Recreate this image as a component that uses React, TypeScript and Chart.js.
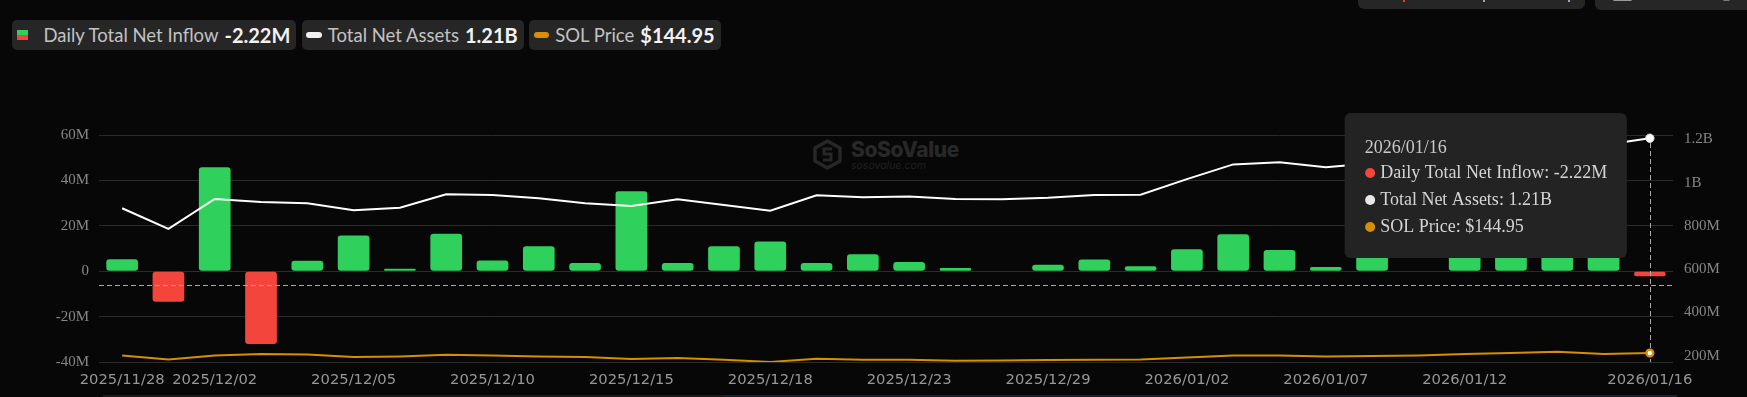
import React, { useEffect, useRef } from 'react';
import { Chart, registerables } from 'chart.js';

Chart.register(...registerables);

// ---------- data ----------
const DATES = [
  '2025/11/28', '2025/12/01', '2025/12/02', '2025/12/03', '2025/12/04', '2025/12/05',
  '2025/12/08', '2025/12/09', '2025/12/10', '2025/12/11', '2025/12/12', '2025/12/15',
  '2025/12/16', '2025/12/17', '2025/12/18', '2025/12/19', '2025/12/22', '2025/12/23',
  '2025/12/24', '2025/12/26', '2025/12/29', '2025/12/30', '2025/12/31', '2026/01/02',
  '2026/01/05', '2026/01/06', '2026/01/07', '2026/01/08', '2026/01/09', '2026/01/12',
  '2026/01/13', '2026/01/14', '2026/01/15', '2026/01/16',
];

// Daily Total Net Inflow (USD)
const INFLOW = [
  5.3e6, -13.5e6, 45.8e6, -32.1e6, 4.6e6, 15.7e6,
  1.1e6, 16.5e6, 4.7e6, 11.0e6, 3.6e6, 35.2e6,
  3.6e6, 11.0e6, 13.1e6, 3.6e6, 7.5e6, 4.1e6,
  1.4e6, 0, 2.8e6, 5.2e6, 2.2e6, 9.7e6,
  16.3e6, 9.3e6, 1.9e6, 8.4e6, 0, 12.1e6,
  10.5e6, 18.0e6, 9.8e6, -2.22e6,
];

// Total Net Assets (USD)
const NET_ASSETS = [
  882e6, 787e6, 925e6, 911e6, 905e6, 873e6,
  885e6, 947e6, 944e6, 928e6, 905e6, 893e6,
  924e6, 897e6, 871e6, 942e6, 933e6, 936e6,
  925e6, 924e6, 931e6, 944e6, 945e6, 1017e6,
  1085e6, 1095e6, 1072e6, 1090e6, 1100e6, 1125e6,
  1150e6, 1180e6, 1175e6, 1206e6,
];

// SOL Price (USD)
const SOL_PRICE = [
  138.5, 127.5, 138.5, 142.2, 141.0, 134.3,
  136.0, 140.3, 138.5, 135.9, 134.3, 129.0,
  131.6, 127.1, 121.2, 129.8, 127.1, 127.1,
  124.4, 125.2, 126.3, 127.1, 127.9, 133.2,
  138.6, 138.6, 135.9, 137.0, 138.6, 142.3,
  145.0, 148.5, 142.3, 144.95,
];

const X_TICK_LABELS = [
  '2025/11/28', '2025/12/02', '2025/12/05', '2025/12/10', '2025/12/15', '2025/12/18',
  '2025/12/23', '2025/12/29', '2026/01/02', '2026/01/07', '2026/01/12', '2026/01/16',
];
const Y_LEFT_TICKS = [-40e6, -20e6, 0, 20e6, 40e6, 60e6];
const Y_RIGHT_TICKS = [200e6, 400e6, 600e6, 800e6, 1e9, 1.2e9];
const CROSSHAIR_VALUE = -6e6;
const HOVER_INDEX = DATES.length - 1;

// ---------- style ----------
const BG = '#070707';
const GREEN = '#2fd05c';
const RED = '#f4453d';
const ORANGE = '#d68f00';
const GRID = '#2b2b2b';
const AXIS_TEXT = '#868686';
const X_TEXT = '#979797';

const fmtMoney = (v: number) => {
  if (v === 0) return '0';
  const a = Math.abs(v);
  if (a >= 1e9) return `${+(v / 1e9).toFixed(2)}B`;
  return `${+(v / 1e6).toFixed(2)}M`;
};

const overlayPlugin = {
  id: 'overlay',
  afterDatasetsDraw(chart: any) {
    const { ctx, chartArea: ca } = chart;
    const xPix = Math.round(chart.scales.x.getPixelForValue(HOVER_INDEX)) + 0.5;
    const yPix = Math.round(chart.scales.y.getPixelForValue(CROSSHAIR_VALUE)) + 0.5;
    ctx.save();
    ctx.setLineDash([5, 3]);
    ctx.strokeStyle = '#a9a9a9';
    ctx.lineWidth = 1;
    ctx.beginPath();
    ctx.moveTo(xPix, ca.top);
    ctx.lineTo(xPix, ca.bottom);
    ctx.moveTo(ca.left, yPix);
    ctx.lineTo(ca.right, yPix);
    ctx.stroke();
    ctx.setLineDash([]);
    const a = chart.getDatasetMeta(0).data[HOVER_INDEX];
    ctx.beginPath();
    ctx.arc(a.x, a.y, 4.2, 0, Math.PI * 2);
    ctx.fillStyle = '#ffffff';
    ctx.fill();
    ctx.strokeStyle = '#d8d8d8';
    ctx.lineWidth = 1;
    ctx.stroke();
    const p = chart.getDatasetMeta(1).data[HOVER_INDEX];
    ctx.beginPath();
    ctx.arc(p.x, p.y, 3.4, 0, Math.PI * 2);
    ctx.fillStyle = '#ffffff';
    ctx.fill();
    ctx.strokeStyle = ORANGE;
    ctx.lineWidth = 2.4;
    ctx.stroke();
    ctx.restore();
  },
  afterDraw(chart: any) {
    const { ctx, chartArea: ca } = chart;
    const i = HOVER_INDEX;
    const xPix = chart.scales.x.getPixelForValue(i);
    ctx.save();
    ctx.font = '18px "Liberation Serif", "Times New Roman", serif';
    const title = DATES[i];
    const rows = [
      { c: RED, t: `Daily Total Net Inflow: ${fmtMoney(INFLOW[i])}` },
      { c: '#e8e8e8', t: `Total Net Assets: ${fmtMoney(NET_ASSETS[i])}` },
      { c: ORANGE, t: `SOL Price: $${SOL_PRICE[i].toFixed(2)}` },
    ];
    const textW = Math.max(...rows.map((r) => ctx.measureText(r.t).width));
    const w = 20 + 15 + textW + 20;
    const h = 145;
    const right = xPix - 23;
    const left = right - w;
    const top = ca.top - 22;
    ctx.beginPath();
    ctx.roundRect(left, top, w, h, 6);
    ctx.fillStyle = '#232323';
    ctx.fill();
    ctx.textBaseline = 'middle';
    ctx.textAlign = 'left';
    ctx.fillStyle = '#c9c9c9';
    ctx.fillText(title, left + 20, top + 35);
    rows.forEach((r, k) => {
      const cy = top + 60 + 27 * k;
      ctx.beginPath();
      ctx.arc(left + 25.5, cy, 5, 0, Math.PI * 2);
      ctx.fillStyle = r.c;
      ctx.fill();
      ctx.fillStyle = '#d4d4d4';
      ctx.fillText(r.t, left + 35.5, cy + 0.5);
    });
    ctx.restore();
  },
};

const pill: React.CSSProperties = {
  height: 30,
  background: '#262626',
  borderRadius: 5,
  display: 'flex',
  alignItems: 'center',
  padding: '0 6px 0 4.5px',
  boxSizing: 'border-box',
  whiteSpace: 'nowrap',
};
const labelStyle: React.CSSProperties = { fontFamily: 'Lato, sans-serif', fontSize: 18.5, color: '#c2c2c2' };
const valueStyle: React.CSSProperties = { fontFamily: 'Lato, sans-serif', fontSize: 20, fontWeight: 700, color: '#f2f2f2', marginLeft: 6 };

export default function App() {
  const ref = useRef<HTMLCanvasElement | null>(null);

  useEffect(() => {
    document.body.style.margin = '0';
    document.body.style.background = BG;
    document.documentElement.style.background = BG;
    const canvas = ref.current;
    if (!canvas) return;
    const tickFontSerif = { family: "'Liberation Serif', 'Times New Roman', serif", size: 15 };
    const chart = new Chart(canvas, {
      type: 'bar',
      data: {
        labels: DATES,
        datasets: [
          {
            type: 'line',
            label: 'Total Net Assets',
            data: NET_ASSETS,
            yAxisID: 'y1',
            borderColor: '#ffffff',
            borderWidth: 2,
            pointRadius: 0,
            tension: 0,
            order: 1,
          } as any,
          {
            type: 'line',
            label: 'SOL Price',
            data: SOL_PRICE,
            yAxisID: 'y2',
            borderColor: ORANGE,
            borderWidth: 2,
            pointRadius: 0,
            tension: 0,
            order: 0,
          } as any,
          {
            type: 'bar',
            label: 'Daily Total Net Inflow',
            data: INFLOW,
            yAxisID: 'y',
            backgroundColor: INFLOW.map((v) => (v >= 0 ? GREEN : RED)),
            borderRadius: 3,
            borderSkipped: false,
            categoryPercentage: 1,
            barPercentage: 0.685,
            order: 2,
          } as any,
        ],
      },
      options: {
        responsive: false,
        animation: false,
        events: [],
        layout: { padding: { top: 135, left: 0, right: 0, bottom: 0 } },
        plugins: { legend: { display: false }, tooltip: { enabled: false } },
        scales: {
          x: {
            grid: { display: false },
            border: { display: false },
            ticks: {
              autoSkip: false,
              maxRotation: 0,
              minRotation: 0,
              color: X_TEXT,
              padding: 1,
              font: { family: "'DejaVu Sans', sans-serif", size: 14.75 },
              callback: (_v: any, idx: number) => (X_TICK_LABELS.includes(DATES[idx]) ? DATES[idx] : ''),
            },
            afterFit: (s: any) => {
              s.height = 35;
            },
          },
          y: {
            position: 'left',
            min: -40e6,
            max: 60e6,
            afterBuildTicks: (s: any) => {
              s.ticks = Y_LEFT_TICKS.map((value) => ({ value }));
            },
            grid: { color: GRID, drawTicks: false, lineWidth: 1 },
            border: { display: false },
            ticks: { color: AXIS_TEXT, font: tickFontSerif, padding: 10, callback: (v: any) => fmtMoney(+v) },
            afterFit: (s: any) => {
              s.width = 99;
            },
          },
          y1: {
            position: 'right',
            min: 171e6,
            max: 1221e6,
            afterBuildTicks: (s: any) => {
              s.ticks = Y_RIGHT_TICKS.map((value) => ({ value }));
            },
            grid: { display: false, drawTicks: false },
            border: { display: false },
            ticks: { color: AXIS_TEXT, font: tickFontSerif, padding: 11, callback: (v: any) => fmtMoney(+v) },
            afterFit: (s: any) => {
              s.width = 74;
            },
          },
          y2: { display: false, min: 121, max: 727 },
        },
      } as any,
      plugins: [overlayPlugin],
    });
    return () => chart.destroy();
  }, []);

  const last = HOVER_INDEX;
  return (
    <div style={{ position: 'relative', width: 1747, height: 397, background: BG, overflow: 'hidden' }}>
      {/* top-right cut-off controls */}
      <div style={{ position: 'absolute', left: 1358, top: -7, width: 227, height: 15.5, background: '#262626', borderRadius: 6 }}>
        <div style={{ position: 'absolute', left: 45, top: 7, width: 2, height: 2, background: '#e0402a' }} />
        <div style={{ position: 'absolute', left: 125, top: 7, width: 2, height: 2, background: '#8fa7c0' }} />
        <div style={{ position: 'absolute', left: 210, top: 7, width: 2, height: 2, background: '#8fa7c0' }} />
      </div>
      <div style={{ position: 'absolute', left: 1595, top: -7, width: 200, height: 16.5, background: '#262626', borderRadius: 6 }}>
        <div style={{ position: 'absolute', left: 18, top: 5, width: 19, height: 3, background: '#9a9a9a', borderRadius: 2 }} />
        <div style={{ position: 'absolute', left: 128, top: 5, width: 7, height: 3, background: '#7a7a7a', borderRadius: 2 }} />
      </div>

      {/* legend */}
      <div style={{ position: 'absolute', left: 12, top: 20, display: 'flex', gap: 5.5 }}>
        <div style={pill}>
          <div style={{ width: 10.5, height: 10, marginLeft: 0.5, marginRight: 16, background: `linear-gradient(${GREEN} 0 50%, ${RED} 50% 100%)` }} />
          <span style={labelStyle}>Daily Total Net Inflow</span>
          <span style={valueStyle}>{fmtMoney(INFLOW[last])}</span>
        </div>
        <div style={pill}>
          <div style={{ width: 15.5, height: 6, marginRight: 6, borderRadius: 3, background: '#f0f0f0' }} />
          <span style={labelStyle}>Total Net Assets</span>
          <span style={valueStyle}>{fmtMoney(NET_ASSETS[last])}</span>
        </div>
        <div style={pill}>
          <div style={{ width: 15.5, height: 6, marginRight: 6, borderRadius: 3, background: ORANGE }} />
          <span style={labelStyle}>SOL Price</span>
          <span style={valueStyle}>${SOL_PRICE[last].toFixed(2)}</span>
        </div>
      </div>

      {/* watermark */}
      <div style={{ position: 'absolute', left: 813, top: 139, display: 'flex', alignItems: 'flex-start' }}>
        <svg width="29" height="31" viewBox="0 0 29 31">
          <polygon points="14.5,2 27,9 27,22 14.5,29 2,22 2,9" fill="none" stroke="#272727" strokeWidth="3.5" strokeLinejoin="round" />
          <path d="M19 10 L11 10 L11 15 L18 15 L18 21 L10 21" fill="none" stroke="#272727" strokeWidth="3" />
        </svg>
        <div style={{ marginLeft: 9, marginTop: 0 }}>
          <div style={{ fontFamily: 'Inter, sans-serif', fontWeight: 800, fontSize: 21, lineHeight: '22px', color: '#282828', letterSpacing: -0.4 }}>SoSoValue</div>
          <div style={{ fontFamily: 'Inter, sans-serif', fontStyle: 'italic', fontSize: 10.5, lineHeight: '10px', color: '#202020', marginTop: 0 }}>sosovalue.com</div>
        </div>
      </div>

      <canvas ref={ref} width={1747} height={397} style={{ position: 'absolute', left: 0, top: 0, width: 1747, height: 397 }} />

      {/* bottom slider edge */}
      <div style={{ position: 'absolute', left: 103, top: 395, width: 620, height: 2, background: '#1a1a1a' }} />
      <div style={{ position: 'absolute', left: 723, top: 395, width: 954, height: 2, background: '#172130' }} />
    </div>
  );
}
